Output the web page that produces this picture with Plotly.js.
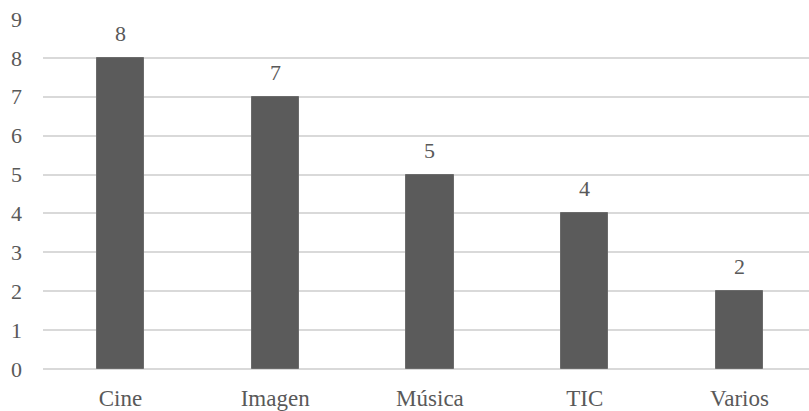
<!DOCTYPE html>
<html>
<head>
<meta charset="utf-8">
<script src="https://cdn.plot.ly/plotly-3.0.1.min.js"></script>
<style>
  html, body { margin: 0; padding: 0; background: #ffffff; }
  #chart { width: 809px; height: 411px; }
  #chart svg text { font-family: "Liberation Serif", serif !important; }
</style>
</head>
<body>
<div id="chart"></div>
<script>
// Número de elementos por categoría
const categories = ["Cine", "Imagen", "Música", "TIC", "Varios"];
const counts = [8, 7, 5, 4, 2];
const yTicks = [0, 1, 2, 3, 4, 5, 6, 7, 8, 9];

const fontFamily = "Liberation Serif";
const textGrey = "#595959";

const bars = {
  type: "bar",
  x: categories,
  y: counts,
  width: 0.305,
  marker: { color: "#5b5b5b", line: { color: "#6b6b6b", width: 1 } },
  hoverinfo: "skip"
};

// Value labels sitting above each bar
const labels = categories.map((c, i) => ({
  x: c,
  y: counts[i],
  xref: "x",
  yref: "y",
  text: String(counts[i]),
  showarrow: false,
  yanchor: "bottom",
  yshift: 10,
  font: { family: fontFamily, size: 22, color: textGrey }
}));

const layout = {
  width: 809,
  height: 411,
  margin: { l: 43, r: 0, t: 19, b: 42 },
  paper_bgcolor: "#ffffff",
  plot_bgcolor: "#ffffff",
  showlegend: false,
  bargap: 0,
  xaxis: {
    type: "category",
    range: [-0.5, 4.449],
    showgrid: false,
    zeroline: false,
    showline: false,
    ticks: "",
    ticklabelstandoff: 13,
    tickfont: { family: fontFamily, size: 23, color: textGrey }
  },
  yaxis: {
    range: [0, 9],
    tickvals: yTicks,
    ticktext: yTicks.map(String),
    showgrid: true,
    gridcolor: "#d9d9d9",
    gridwidth: 2,
    zeroline: true,
    zerolinecolor: "#d9d9d9",
    zerolinewidth: 2,
    showline: false,
    ticks: "",
    ticklabelstandoff: 20,
    tickfont: { family: fontFamily, size: 22, color: textGrey }
  },
  annotations: labels
};

Plotly.newPlot("chart", [bars], layout, { displayModeBar: false });
</script>
</body>
</html>
